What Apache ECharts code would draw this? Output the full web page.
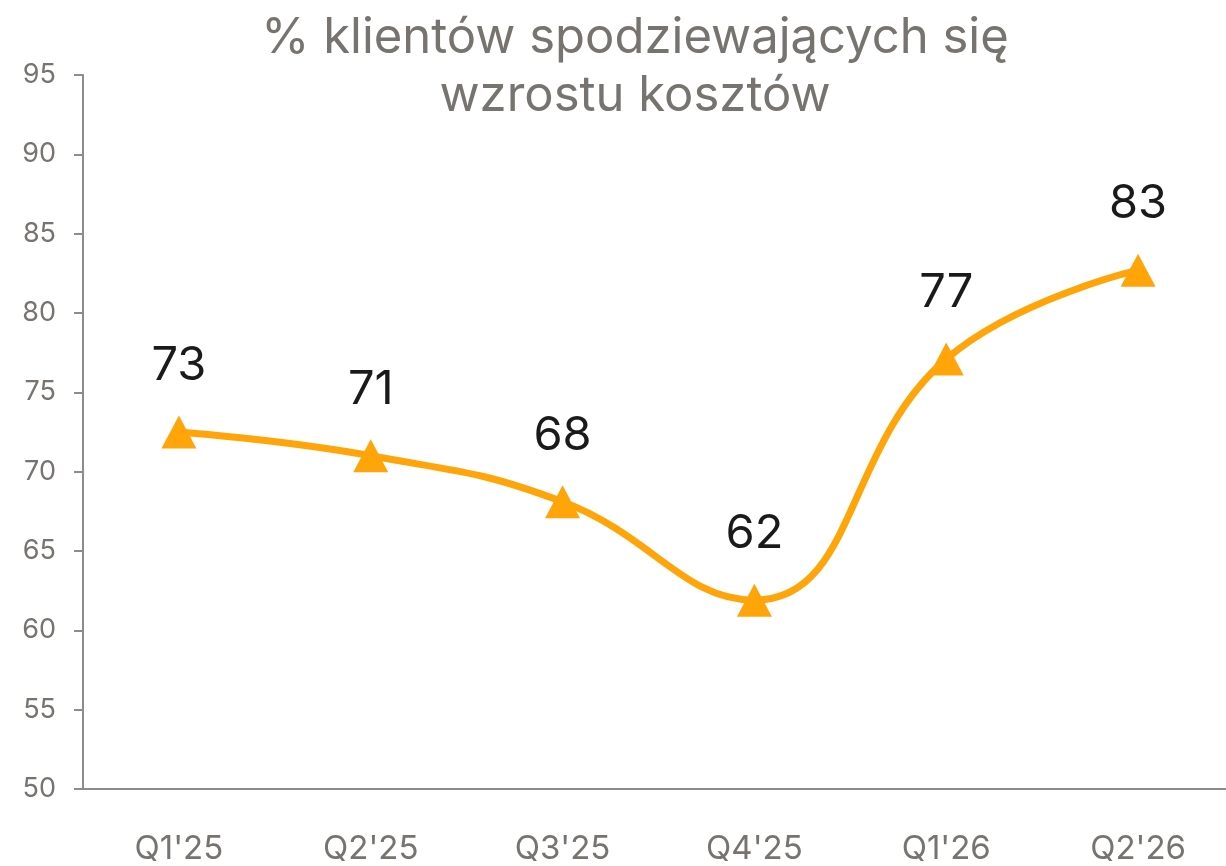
<!DOCTYPE html>
<html>
<head>
<meta charset="utf-8">
<script src="https://cdn.jsdelivr.net/npm/echarts@6/dist/echarts.min.js"></script>
<style>
  html, body { margin: 0; padding: 0; background: #fff; }
  .wrap { width: 1226px; height: 866px; overflow: hidden; position: relative; }
  /* wykres jest nieco szerszy niż okno - ostatnia kategoria ucięta jak w oryginale */
  #chart { width: 1234px; height: 866px; }
</style>
</head>
<body>
<div class="wrap"><div id="chart"></div></div>
<script>
  // dane
  var categories = ["Q1'25", "Q2'25", "Q3'25", "Q4'25", "Q1'26", "Q2'26"];
  var values = [72.5, 71.0, 68.1, 61.9, 77.1, 82.7];
  var yMin = 50, yMax = 95, yStep = 5;

  var chart = echarts.init(document.getElementById('chart'));
  var font = 'Inter, "Open Sans", sans-serif';
  var axisColor = '#8c8c8c';
  var labelGray = '#77736f';

  chart.setOption({
    animation: false,
    title: {
      text: '% klientów spodziewających się\nwzrostu kosztów',
      left: 630,
      textAlign: 'center',
      top: 4,
      textStyle: {
        fontFamily: font,
        fontSize: 49,
        fontWeight: 'normal',
        color: labelGray,
        lineHeight: 58
      }
    },
    grid: {
      left: 83,
      top: 75,
      bottom: 74,
      right: 0
    },
    xAxis: {
      type: 'category',
      boundaryGap: true,
      data: categories,
      axisLine: { lineStyle: { color: axisColor, width: 2 } },
      axisTick: { length: 12, lineStyle: { color: axisColor, width: 2 } },
      axisLabel: {
        fontFamily: font,
        fontSize: 33,
        color: labelGray,
        margin: 44
      }
    },
    yAxis: {
      type: 'value',
      min: yMin,
      max: yMax,
      interval: yStep,
      axisLine: { show: true, lineStyle: { color: axisColor, width: 2 } },
      axisTick: { show: true, length: 9, lineStyle: { color: axisColor, width: 2 } },
      splitLine: { show: false },
      axisLabel: {
        fontFamily: font,
        fontSize: 27,
        color: labelGray,
        margin: 27
      }
    },
    series: [{
      type: 'line',
      data: values,
      smooth: 0.45,
      symbol: 'triangle',
      symbolSize: [35, 33],
      itemStyle: { color: '#ffa50a' },
      lineStyle: { color: '#ffa50a', width: 7 },
      label: {
        show: true,
        position: 'top',
        distance: 26,
        fontFamily: font,
        fontSize: 47,
        color: '#1a1a1a',
        formatter: function (p) { return Math.round(p.value); }
      }
    }]
  });
</script>
</body>
</html>
